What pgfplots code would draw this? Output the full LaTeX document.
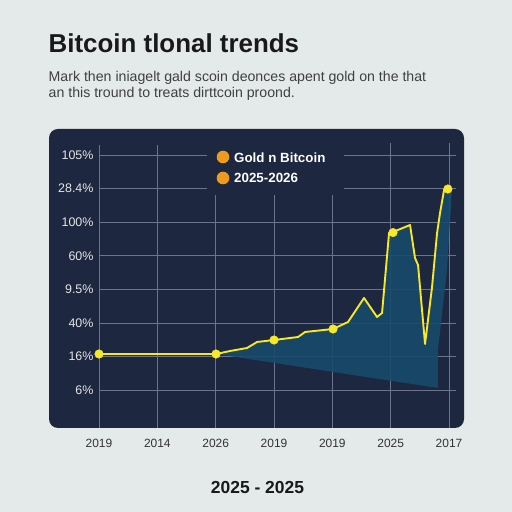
\documentclass[border=0pt]{standalone}
\usepackage{fontspec}
\setmainfont{Liberation Sans}
\usepackage{pgfplots}
\pgfplotsset{compat=1.18}
\definecolor{bgc}{HTML}{E4E9E9}
\definecolor{panel}{HTML}{1D2740}
\definecolor{gridc}{HTML}{6B7589}
\definecolor{yel}{HTML}{F7E82A}
\definecolor{areac}{HTML}{174A6C}
\definecolor{coin}{HTML}{EE9A1C}
\newcommand{\gridX}[3]{\draw[gridc,line width=0.7pt] (axis cs:#1,#2) -- (axis cs:#1,#3);}
\newcommand{\gridY}[3]{\draw[gridc,line width=0.7pt] (axis cs:#2,#1) -- (axis cs:#3,#1);}
\begin{document}
\begin{tikzpicture}[x=1bp,y=1bp]
\fill[bgc] (0,0) rectangle (512,512);
\fill[panel,rounded corners=9bp] (49,84) rectangle (464,383);
\node[anchor=base west,font=\bfseries\fontsize{26}{26}\selectfont,text=black!90,inner sep=0] at (48.5,459) {Bitcoin tlonal trends};
\node[anchor=base west,font=\fontsize{14.2}{15}\selectfont,text=black!75,inner sep=0] at (48.5,430.3) {Mark then iniagelt gald scoin deonces apent gold on the that};
\node[anchor=base west,font=\fontsize{14.2}{15}\selectfont,text=black!75,inner sep=0] at (48.5,414.3) {an this tround to treats dirttcoin proond.};
\begin{axis}[
  at={(49bp,84bp)},anchor=south west,
  scale only axis,width=415bp,height=299bp,
  xmin=-0.857,xmax=6.257,ymin=-1.132,ymax=7.775,
  axis line style={draw=none},
  xtick={0,1,2,3,4,5,6},
  xticklabels={2019,2014,2026,2019,2019,2025,2017},
  ytick={0,1,2,3,4,5,6,7},
  yticklabels={6\%,16\%,40\%,9.5\%,60\%,100\%,28.4\%,105\%},
  major tick length=0pt,
  x tick label style={font=\fontsize{12}{13}\selectfont,text=black!80,yshift=-8bp},
  y tick label style={font=\fontsize{12.5}{13}\selectfont,text=white!90!black,xshift=48bp},
  /pgf/number format/assume math mode=true,
  clip=false,
]
\gridY{0}{0}{6.12}\gridY{1}{0}{6.12}\gridY{2}{0}{6.12}\gridY{3}{0}{6.12}\gridY{4}{0}{6.12}\gridY{5}{0}{6.12}
\gridY{6}{4.2}{6.12}\gridY{6}{0}{1.85}\gridY{7}{0}{1.85}\gridY{7}{4.2}{6.12}
\gridX{0}{-1.132}{7.3}\gridX{1}{-1.132}{7.3}
\gridX{2}{-1.132}{5.8}\gridX{3}{-1.132}{5.8}\gridX{4}{-1.132}{5.8}\gridX{5}{-1.132}{7.35}\gridX{6}{-1.132}{7.35}
\addplot[draw=none,fill=areac,fill opacity=0.9] coordinates {
 (2.006,1.072)(2.246,1.162)(2.537,1.251)(2.709,1.430)(3.0,1.489)(3.412,1.579)(3.532,1.728)(4.012,1.817)(4.269,2.026)(4.543,2.741)(4.766,2.175)(4.852,2.294)(4.972,4.677)(5.04,4.707)(5.332,4.915)(5.417,3.932)(5.469,3.724)(5.589,1.370)(5.709,3.068)(5.795,4.677)(5.846,5.273)(5.915,5.958)(5.983,5.987)(6.05,5.98)(5.966,3.575)(5.81,1.19)(5.81,0.06)(2.006,1.072)} -- cycle;
\addplot[yel,line width=1.9pt,line join=round] coordinates {
 (0,1.072)(2.006,1.072)(2.246,1.162)(2.537,1.251)(2.709,1.430)(3.0,1.489)(3.412,1.579)(3.532,1.728)(4.012,1.817)(4.269,2.026)(4.543,2.741)(4.766,2.175)(4.852,2.294)(4.972,4.677)(5.04,4.707)(5.332,4.915)(5.417,3.932)(5.469,3.724)(5.589,1.370)(5.709,3.068)(5.795,4.677)(5.846,5.273)(5.915,5.958)(5.983,5.987)};
\addplot[only marks,mark=*,mark size=4.3bp,mark options={fill=yel,draw=yel}] coordinates {(0,1.072)(2.006,1.072)(3,1.489)(4.012,1.817)(5.04,4.69)(5.98,5.987)};
\end{axis}
\fill[coin] (223,355) circle (6.3bp);
\fill[coin] (223,334) circle (6.3bp);
\node[anchor=base west,font=\bfseries\fontsize{13.4}{14}\selectfont,text=white,inner sep=0] at (234,349.5) {Gold n Bitcoin};
\node[anchor=base west,font=\bfseries\fontsize{13.4}{14}\selectfont,text=white,inner sep=0] at (234,329) {2025-2026};
\node[anchor=base,font=\bfseries\fontsize{17.5}{18}\selectfont,text=black!90,inner sep=0] at (257.5,18) {2025 - 2025};
\end{tikzpicture}
\end{document}
